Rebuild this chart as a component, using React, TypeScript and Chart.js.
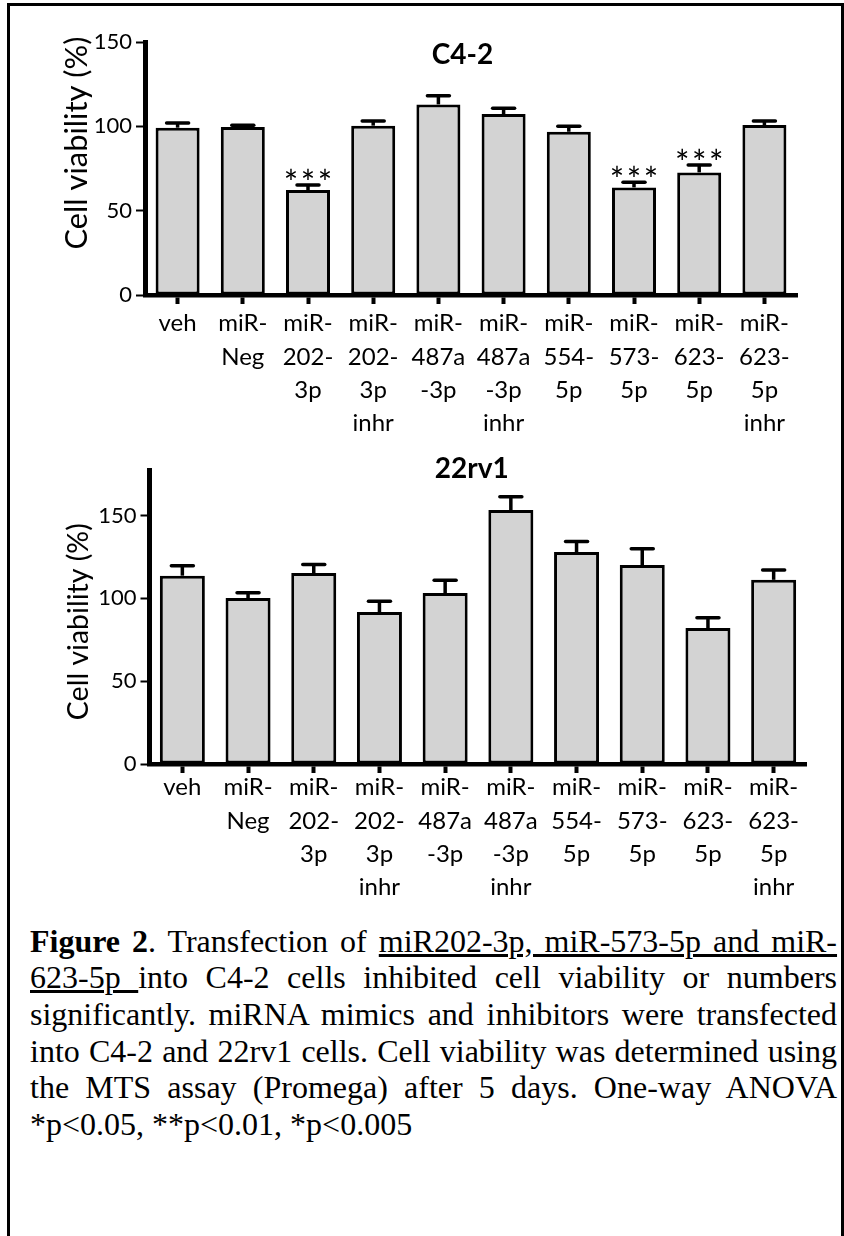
import React, { useEffect, useRef } from 'react';
import { Chart, registerables } from 'chart.js';

Chart.register(...registerables);

const FONT = 'Lato, "Open Sans", "DejaVu Sans", sans-serif';

// ---- data ----
const categories: string[][] = [
  ['veh'],
  ['miR-', 'Neg'],
  ['miR-', '202-', '3p'],
  ['miR-', '202-', '3p', 'inhr'],
  ['miR-', '487a', '-3p'],
  ['miR-', '487a', '-3p', 'inhr'],
  ['miR-', '554-', '5p'],
  ['miR-', '573-', '5p'],
  ['miR-', '623-', '5p'],
  ['miR-', '623-', '5p', 'inhr'],
];

const c42Means = [99.2, 99.6, 62.2, 100.4, 113.0, 107.3, 96.8, 63.8, 72.7, 100.8];
const c42Sem = [2.8, 1.0, 3.0, 2.7, 5.1, 3.4, 3.2, 3.0, 4.4, 2.3];
const c42Stars = ['', '', '***', '', '', '', '', '***', '***', ''];
const c42YTicks = [0, 50, 100, 150];

const rvMeans = [113.7, 100.2, 115.3, 91.7, 103.2, 153.3, 128.0, 120.1, 82.1, 111.2];
const rvSem = [6.0, 3.2, 5.2, 6.6, 7.8, 8.0, 6.4, 9.9, 6.2, 5.9];
const rvStars = ['', '', '', '', '', '', '', '', '', ''];
const rvYTicks = [0, 50, 100, 150];

const yAxisTitle = 'Cell viability (%)';

type Panel = {
  title: string;
  means: number[];
  sem: number[];
  stars: string[];
  yTicks: number[];
  yMax: number;
  top: number;
  height: number;
  padTop: number;
  padRight: number;
  yAxisWidth: number;
  xAxisHeight: number;
  xLabelPad: number;
  barPct: number;
  titleX: number;
  titleY: number;
  yTitleX: number;
  yTitleY: number;
  yTitleLen: number;
};

const panels: Panel[] = [
  {
    title: 'C4-2', means: c42Means, sem: c42Sem, stars: c42Stars, yTicks: c42YTicks, yMax: 150,
    top: 0, height: 440, padTop: 42, padRight: 47, yAxisWidth: 145, xAxisHeight: 145, xLabelPad: 3,
    barPct: 0.675, titleX: 462.5, titleY: 55, yTitleX: 76.7, yTitleY: 143, yTitleLen: 213,
  },
  {
    title: '22rv1', means: rvMeans, sem: rvSem, stars: rvStars, yTicks: rvYTicks, yMax: 177.5,
    top: 440, height: 460, padTop: 30, padRight: 37.5, yAxisWidth: 149.5, xAxisHeight: 136, xLabelPad: -2,
    barPct: 0.685, titleX: 471.7, titleY: 29, yTitleX: 79, yTitleY: 181.7, yTitleLen: 197,
  },
];

const annotPlugin = {
  id: 'annot',
  afterDatasetsDraw(chart: any, _args: any, opts: any) {
    const ctx: CanvasRenderingContext2D = chart.ctx;
    const y = chart.scales.y;
    const meta = chart.getDatasetMeta(0);
    const data = chart.data.datasets[0].data as number[];
    ctx.save();
    ctx.strokeStyle = '#000';
    ctx.fillStyle = '#000';
    ctx.lineWidth = 3.5;
    meta.data.forEach((bar: any, i: number) => {
      const v = data[i];
      const e = opts.sem[i];
      const yb = y.getPixelForValue(v);
      const yt = y.getPixelForValue(v + e);
      const x = bar.x;
      ctx.lineCap = 'butt';
      ctx.beginPath();
      ctx.moveTo(x, yb);
      ctx.lineTo(x, yt);
      ctx.stroke();
      ctx.lineCap = 'round';
      ctx.beginPath();
      ctx.moveTo(x - 11, yt);
      ctx.lineTo(x + 11, yt);
      ctx.stroke();
      const s: string = opts.stars[i];
      if (s) {
        ctx.font = `400 34px ${FONT}`;
        ctx.textAlign = 'center';
        ctx.textBaseline = 'alphabetic';
        const n = s.length;
        for (let k = 0; k < n; k++) {
          ctx.fillText('*', x + (k - (n - 1) / 2) * 17, yt + 10);
        }
      }
    });
    // panel title
    ctx.font = `700 28px ${FONT}`;
    ctx.textAlign = 'center';
    ctx.textBaseline = 'middle';
    ctx.fillText(opts.title, opts.titleX, opts.titleY);
    // y axis title, fitted to the measured length
    ctx.font = `400 100px ${FONT}`;
    const w = ctx.measureText(yAxisTitle).width;
    const size = (100 * opts.yTitleLen) / w;
    ctx.font = `400 ${size}px ${FONT}`;
    ctx.translate(opts.yTitleX, opts.yTitleY);
    ctx.rotate(-Math.PI / 2);
    ctx.textAlign = 'center';
    ctx.textBaseline = 'middle';
    ctx.fillText(yAxisTitle, 0, 0);
    ctx.restore();
  },
};

function PanelChart({ p }: { p: Panel }) {
  const ref = useRef<HTMLCanvasElement>(null);
  useEffect(() => {
    const chart = new Chart(ref.current as HTMLCanvasElement, {
      type: 'bar',
      data: {
        labels: categories as any,
        datasets: [
          {
            data: p.means,
            backgroundColor: '#d3d3d3',
            borderColor: '#000',
            borderWidth: 3,
            borderSkipped: false,
            barPercentage: p.barPct,
            categoryPercentage: 1,
          } as any,
        ],
      },
      options: {
        animation: false,
        responsive: false,
        maintainAspectRatio: false,
        devicePixelRatio: 1,
        layout: { padding: { top: p.padTop, right: p.padRight, bottom: 0, left: 0 } },
        events: [],
        plugins: {
          legend: { display: false },
          title: { display: false },
          tooltip: { enabled: false },
          annot: {
            sem: p.sem, stars: p.stars, title: p.title, titleX: p.titleX, titleY: p.titleY,
            yTitleX: p.yTitleX, yTitleY: p.yTitleY, yTitleLen: p.yTitleLen,
          },
        } as any,
        scales: {
          x: {
            type: 'category',
            offset: true,
            grid: {
              display: true, drawOnChartArea: false, drawTicks: true, tickLength: 9,
              tickWidth: 4, tickColor: '#000', offset: false,
            } as any,
            border: { display: true, color: '#000', width: 4.5 },
            ticks: {
              color: '#000', font: { family: FONT, size: 24, lineHeight: 1.39 },
              padding: p.xLabelPad, maxRotation: 0, minRotation: 0, autoSkip: false,
            },
            afterFit: (s: any) => { s.height = p.xAxisHeight; },
          },
          y: {
            min: 0,
            max: p.yMax,
            grid: { drawOnChartArea: false, drawTicks: true, tickLength: 9, tickWidth: 2, tickColor: '#000' },
            border: { display: true, color: '#000', width: 5 },
            ticks: { color: '#000', font: { family: FONT, size: 22 }, padding: 4, includeBounds: false } as any,
            afterBuildTicks: (axis: any) => { axis.ticks = p.yTicks.map((v) => ({ value: v })); },
            afterFit: (s: any) => { s.width = p.yAxisWidth; },
          },
        },
      },
      plugins: [annotPlugin as any],
    });
    return () => chart.destroy();
  }, []);
  return (
    <canvas
      ref={ref}
      width={844}
      height={p.height}
      style={{ position: 'absolute', left: 0, top: p.top, width: 844, height: p.height }}
    />
  );
}

const capLine: React.CSSProperties = {
  textAlign: 'justify',
  textAlignLast: 'justify' as any,
  whiteSpace: 'nowrap',
  height: '36.7px',
};

export default function App() {
  return (
    <div style={{ position: 'absolute', left: 0, top: 0, width: 844, height: 1236, background: '#fff', overflow: 'hidden' }}>
      <div style={{ position: 'absolute', left: 7, top: 3, width: 837, height: 3, background: '#000' }} />
      <div style={{ position: 'absolute', left: 7, top: 3, width: 3, height: 1233, background: '#000' }} />
      <div style={{ position: 'absolute', left: 841, top: 3, width: 3, height: 1233, background: '#000' }} />
      {panels.map((p, i) => (
        <PanelChart key={i} p={p} />
      ))}
      <div
        style={{
          position: 'absolute', left: 30, top: 922.5, width: 807,
          fontFamily: '"Liberation Serif", "Times New Roman", serif', fontSize: 32,
          lineHeight: '36.7px', color: '#000',
        }}
      >
        <div style={capLine}><b>Figure 2</b>. Transfection of <u>miR202-3p, miR-573-5p and miR-</u></div>
        <div style={capLine}><u>623-5p </u>into C4-2 cells inhibited cell viability or numbers</div>
        <div style={capLine}>significantly. miRNA mimics and inhibitors were transfected</div>
        <div style={capLine}>into C4-2 and 22rv1 cells. Cell viability was determined using</div>
        <div style={capLine}>the MTS assay (Promega) after 5 days. One-way ANOVA</div>
        <div style={{ textAlign: 'left', whiteSpace: 'nowrap' }}>*p&lt;0.05, **p&lt;0.01, *p&lt;0.005</div>
      </div>
    </div>
  );
}
